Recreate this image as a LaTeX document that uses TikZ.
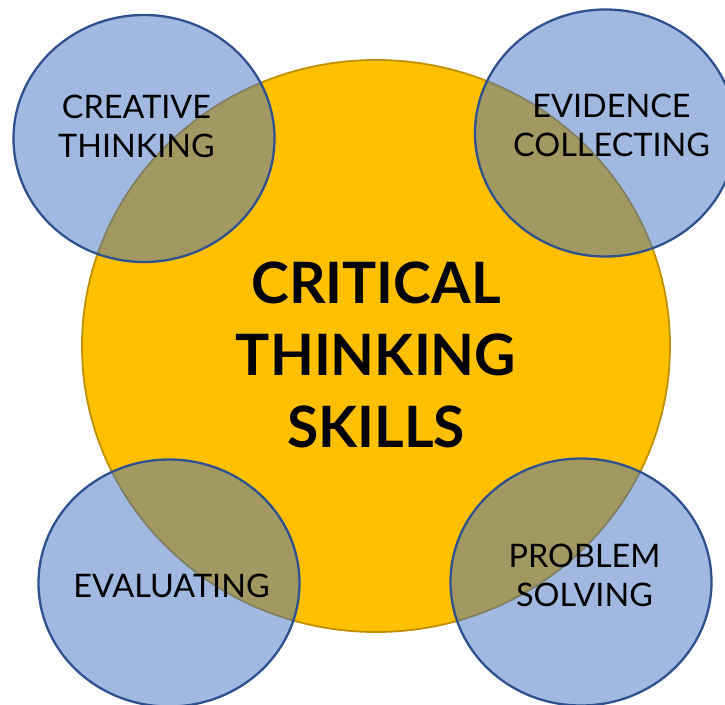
\documentclass[tikz,border=0pt]{standalone}
\usepackage{fontspec}
\setmainfont{Lato}
\usetikzlibrary{shapes.geometric}
\definecolor{gold}{HTML}{FFC000}
\definecolor{goldline}{HTML}{BF9000}
\definecolor{bluefill}{HTML}{4472C4}
\definecolor{blueline}{HTML}{2F528F}
\tikzset{
  core/.style={ellipse, draw=goldline, line width=1.8pt, fill=gold,
    minimum width=588pt, minimum height=572pt, inner sep=0pt},
  skill/.style={ellipse, draw=blueline, line width=2.3pt, fill=bluefill,
    fill opacity=0.5, draw opacity=1, minimum width=261pt, minimum height=247pt, inner sep=0pt},
  skilltext/.style={anchor=base, align=center, inner sep=0pt,
    font=\fontsize{32.4}{39}\selectfont, text=black},
  coretext/.style={anchor=base, align=center, inner sep=0pt,
    font=\fontsize{57}{72}\selectfont\bfseries, text=black}
}
\begin{document}
\begin{tikzpicture}[x=1pt,y=-1pt]
  \useasboundingbox (0,0) rectangle (725,704);
  \node[core] (core) at (376,346) {};
  \node[skill] (creative) at (144,138.5) {};
  \node[skill] (evidence) at (605.5,133) {};
  \node[skill] (evaluating) at (169,583) {};
  \node[skill] (problem) at (581,582) {};
  \node[coretext] (coreT) at (376,447) {CRITICAL\\THINKING\\SKILLS};
  \node[skilltext] (creativeT) at (136.5,157) {CREATIVE\\THINKING};
  \node[skilltext] (evidenceT) at (611.5,156) {EVIDENCE\\COLLECTING};
  \node[skilltext] (evaluatingT) at (171.5,597) {EVALUATING};
  \node[skilltext] (problemT) at (584.5,606.5) {PROBLEM\\SOLVING};
\end{tikzpicture}
\end{document}
